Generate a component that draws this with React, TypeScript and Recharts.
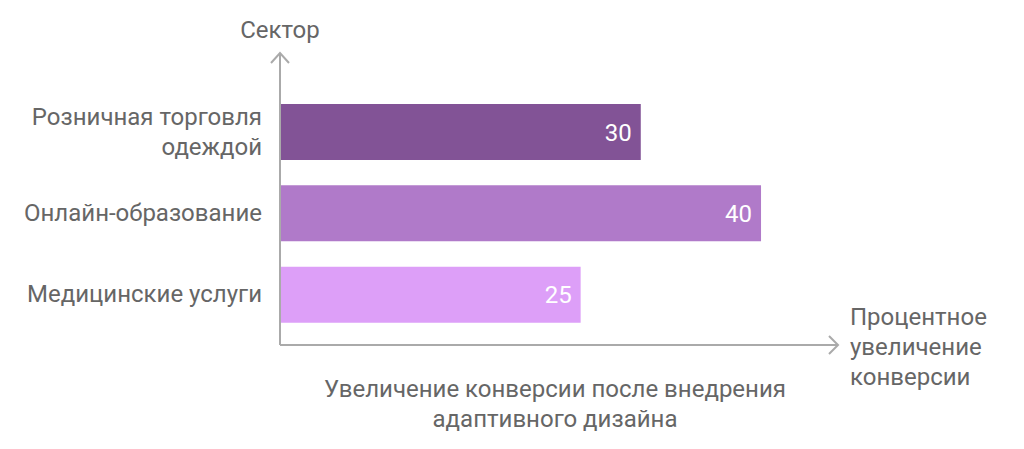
import { BarChart, Bar, XAxis, YAxis, Cell, LabelList, Label } from "recharts";

const sectors = ["Розничная торговля одеждой", "Онлайн-образование", "Медицинские услуги"];
const increase = [30, 40, 25];
const barColors = ["#825396", "#b07ac9", "#dd9ff8"];

const yTitle = "Сектор";
const xTitle = ["Процентное", "увеличение", "конверсии"];
const chartTitle = ["Увеличение конверсии после внедрения", "адаптивного дизайна"];

const data = sectors.map((sector, i) => ({ sector, value: increase[i] }));

const FONT = "Roboto, sans-serif";
const FS = 24;
const TEXT = "#666666";
const AXIS = "#aaaaaa";
const LINE_H = 30;

// простой перенос по числу символов
function wrap(label: string, maxChars = 20) {
  const lines: string[] = [];
  let cur = "";
  label.split(" ").forEach((w) => {
    const next = cur ? cur + " " + w : w;
    if (next.length > maxChars && cur) {
      lines.push(cur);
      cur = w;
    } else {
      cur = next;
    }
  });
  if (cur) lines.push(cur);
  return lines;
}

function SectorTick(props: any) {
  const { x, y, payload } = props;
  const lines = wrap(String(payload.value));
  const startDy = -((lines.length - 1) * LINE_H) / 2;
  return (
    <text
      x={x}
      y={y}
      textAnchor="end"
      dominantBaseline="central"
      fontSize={FS}
      fontFamily={FONT}
      fill={TEXT}
    >
      {lines.map((line, i) => (
        <tspan key={i} x={x} dy={i === 0 ? startDy : LINE_H}>
          {line}
        </tspan>
      ))}
    </text>
  );
}

function YTitle(props: any) {
  const { viewBox } = props;
  const ax = viewBox.x + viewBox.width;
  const top = viewBox.y;
  return (
    <g>
      <polyline
        points={`${ax - 9},${top + 10} ${ax},${top} ${ax + 9},${top + 10}`}
        fill="none"
        stroke={AXIS}
        strokeWidth={2}
      />
      <text x={ax} y={top - 15} textAnchor="middle" fontSize={FS} fontFamily={FONT} fill={TEXT}>
        {yTitle}
      </text>
    </g>
  );
}

function XTitle(props: any) {
  const { viewBox } = props;
  const left = viewBox.x;
  const right = viewBox.x + viewBox.width;
  const ay = viewBox.y;
  const mid = (left + right) / 2;
  return (
    <g>
      <polyline
        points={`${right - 9},${ay - 9} ${right},${ay} ${right - 9},${ay + 9}`}
        fill="none"
        stroke={AXIS}
        strokeWidth={2}
      />
      <text x={right + 12} y={ay - 20} fontSize={FS} fontFamily={FONT} fill={TEXT}>
        {xTitle.map((line, i) => (
          <tspan key={i} x={right + 12} dy={i === 0 ? 0 : LINE_H}>
            {line}
          </tspan>
        ))}
      </text>
      <text x={mid - 4} y={ay + 52} textAnchor="middle" fontSize={FS} fontFamily={FONT} fill={TEXT}>
        {chartTitle.map((line, i) => (
          <tspan key={i} x={mid - 4} dy={i === 0 ? 0 : LINE_H}>
            {line}
          </tspan>
        ))}
      </text>
    </g>
  );
}

export default function App() {
  return (
    <div style={{ position: "absolute", left: 0, top: 0, background: "#fff" }}>
      <BarChart
        width={1024}
        height={449}
        data={data}
        layout="vertical"
        margin={{ top: 53, right: 186, bottom: 74, left: 0 }}
        barSize={56}
      >
        <XAxis
          type="number"
          domain={[0, 46.4]}
          allowDataOverflow
          height={30}
          tick={false}
          tickLine={false}
          axisLine={{ stroke: AXIS, strokeWidth: 2 }}
        >
          <Label content={<XTitle />} />
        </XAxis>
        <YAxis
          type="category"
          dataKey="sector"
          width={280}
          padding={{ top: 38, bottom: 10 }}
          tickLine={false}
          tickMargin={12}
          tick={<SectorTick />}
          axisLine={{ stroke: AXIS, strokeWidth: 2 }}
        >
          <Label content={<YTitle />} />
        </YAxis>
        <Bar dataKey="value" isAnimationActive={false}>
          {data.map((d, i) => (
            <Cell key={d.sector} fill={barColors[i]} />
          ))}
          <LabelList
            dataKey="value"
            position="insideRight"
            offset={9}
            fill="#ffffff"
            fontSize={FS}
            fontFamily={FONT}
          />
        </Bar>
      </BarChart>
    </div>
  );
}
